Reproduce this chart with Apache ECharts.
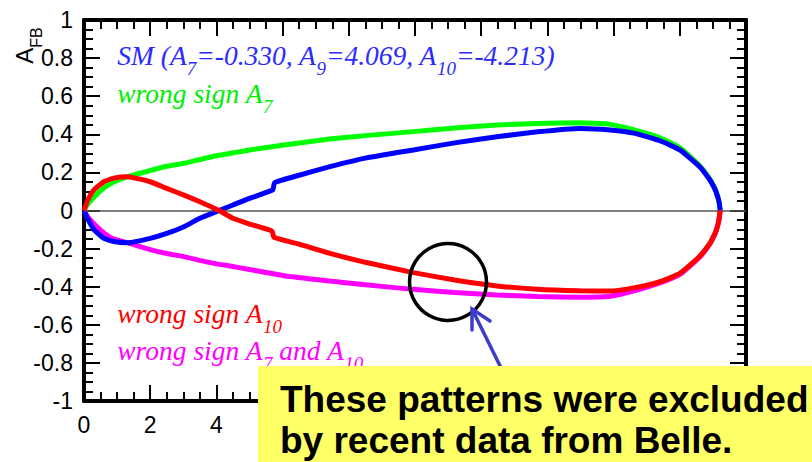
<!DOCTYPE html>
<html lang="en">
<head>
<meta charset="UTF-8">
<title>A_FB</title>
<style>
  html, body { margin: 0; padding: 0; background: #fff; }
  #chart { width: 812px; height: 462px; }
</style>
<script src="https://cdn.jsdelivr.net/npm/echarts@6/dist/echarts.min.js"></script>
</head>
<body>
<div id="chart"></div>
<script>
  // q^2 and A_FB values
  var smQ = [0, 0.1, 0.3, 0.6, 0.9, 1.31, 2, 2.5, 3.02, 3.5, 4.08, 4.5, 5, 5.7, 5.76, 6.5, 7.43, 8.5, 9.95, 11.2, 12.47, 13.7, 14.98, 15.9, 16.65, 17.4, 18, 18.6, 18.91, 19.05, 19.11, 19.18, 19.22];
  var smA = [0, -0.04, -0.1, -0.146, -0.163, -0.169, -0.146, -0.12, -0.085, -0.041, 0, 0.029, 0.064, 0.108, 0.146, 0.185, 0.23, 0.275, 0.318, 0.355, 0.387, 0.413, 0.431, 0.423, 0.405, 0.366, 0.318, 0.23, 0.16, 0.116, 0.09, 0.05, 0];

  var a7Q = [0, 0.1, 0.3, 0.6, 0.9, 1.31, 2, 2.5, 3.02, 3.5, 4.0, 4.53, 5, 6.04, 7.43, 8.5, 9.95, 11.2, 12.47, 13.7, 14.98, 15.9, 16.65, 17.4, 18, 18.6, 18.91, 19.05, 19.11, 19.18, 19.22];
  var a7A = [0, 0.03, 0.07, 0.118, 0.15, 0.177, 0.21, 0.232, 0.248, 0.268, 0.287, 0.303, 0.318, 0.344, 0.375, 0.393, 0.414, 0.433, 0.449, 0.457, 0.461, 0.452, 0.422, 0.382, 0.33, 0.235, 0.165, 0.12, 0.095, 0.05, 0];

  var a10Q = [0, 0.1, 0.3, 0.6, 0.9, 1.31, 2, 2.5, 3.02, 3.5, 4.08, 4.5, 5, 5.68, 5.74, 6.5, 7.43, 8.5, 9.95, 11.2, 12.47, 13.7, 14.98, 15.9, 16.65, 17.4, 18, 18.6, 18.91, 19.05, 19.11, 19.18, 19.22];
  var a10A = [0, 0.05, 0.108, 0.151, 0.17, 0.177, 0.151, 0.116, 0.081, 0.046, 0, -0.041, -0.071, -0.108, -0.141, -0.177, -0.225, -0.272, -0.326, -0.365, -0.396, -0.413, -0.421, -0.423, -0.405, -0.374, -0.33, -0.24, -0.172, -0.125, -0.1, -0.052, 0];

  var bothQ = a7Q;
  var bothA = [0, -0.03, -0.07, -0.118, -0.15, -0.169, -0.205, -0.226, -0.242, -0.262, -0.28, -0.295, -0.31, -0.342, -0.37, -0.39, -0.414, -0.43, -0.443, -0.452, -0.456, -0.45, -0.42, -0.38, -0.335, -0.245, -0.175, -0.128, -0.1, -0.053, 0];

  // only these x labels are visible, the rest sit under the yellow box
  var shownXLabels = [0, 2, 4];

  function pairs(q, a) {
    return q.map(function (x, i) { return [x, a[i]]; });
  }

  var serif = 'Liberation Serif';
  var sans = 'Liberation Sans';

  // rich text with subscripts; p is a spacer that makes the line tall enough
  function richFor(color) {
    return {
      m: { fontSize: 27.5, fontFamily: serif, fontStyle: 'italic', fill: color, lineHeight: 31, verticalAlign: 'top' },
      s: { fontSize: 19, fontFamily: serif, fontStyle: 'italic', fill: color, lineHeight: 21, verticalAlign: 'bottom' },
      p: { fontSize: 1, lineHeight: 36, fill: color }
    };
  }

  function label(x, y, text, color) {
    return {
      type: 'text', x: x, y: y, z: 50,
      style: { text: '{p| }' + text, rich: richFor(color), verticalAlign: 'top' }
    };
  }

  var tickStyle = { color: '#000', width: 2 };

  function axisX(pos, showLabel) {
    return {
      type: 'value', position: pos, min: 0, max: 20, interval: 2,
      axisLine: { show: true, onZero: false, lineStyle: { color: '#000', width: 4 } },
      axisTick: { show: true, inside: true, length: 16, lineStyle: tickStyle },
      minorTick: { show: true, splitNumber: 4, length: 9, lineStyle: tickStyle },
      splitLine: { show: false },
      axisLabel: {
        show: showLabel, color: '#000', fontSize: 23, fontFamily: sans, margin: 12,
        formatter: function (v) { return shownXLabels.indexOf(v) >= 0 ? String(v) : ''; }
      }
    };
  }

  function axisY(pos, showLabel) {
    return {
      type: 'value', position: pos, min: -1, max: 1, interval: 0.2,
      axisLine: { show: true, onZero: false, lineStyle: { color: '#000', width: 4 } },
      axisTick: { show: true, inside: true, length: 16, lineStyle: tickStyle },
      minorTick: { show: true, splitNumber: 4, length: 9, lineStyle: tickStyle },
      splitLine: { show: false },
      axisLabel: { show: showLabel, color: '#000', fontSize: 23, fontFamily: sans, margin: 11 }
    };
  }

  function curve(name, data, color, z) {
    return {
      name: name, type: 'line', data: data, showSymbol: false, z: z,
      smooth: 0.15,
      lineStyle: { color: color, width: 5 }, itemStyle: { color: color },
      silent: true
    };
  }

  var chart = echarts.init(document.getElementById('chart'), null, { renderer: 'svg' });

  var green = curve('wrong sign A7', pairs(a7Q, a7A), '#00ff00', 2);
  green.markLine = {
    silent: true, symbol: 'none', label: { show: false },
    lineStyle: { color: '#555', width: 1.5, type: 'solid' },
    data: [{ yAxis: 0 }]
  };

  chart.setOption({
    animation: false,
    grid: { left: 84, top: 20, right: 66, bottom: 61, outerBoundsMode: 'none' },
    xAxis: [axisX('bottom', true), axisX('top', false)],
    yAxis: [axisY('left', true), axisY('right', false)],
    series: [
      green,
      curve('wrong sign A7 and A10', pairs(bothQ, bothA), '#ff00ff', 3),
      curve('SM', pairs(smQ, smA), '#0000ff', 4),
      curve('wrong sign A10', pairs(a10Q, a10A), '#ff0000', 5)
    ],
    graphic: [
      {
        type: 'text', x: 12, y: 64, rotation: Math.PI / 2, z: 50,
        style: {
          text: '{p| }{a|A}{f|FB}', verticalAlign: 'top',
          rich: {
            a: { fontSize: 24, fontFamily: sans, fill: '#000', lineHeight: 26, verticalAlign: 'top' },
            f: { fontSize: 16, fontFamily: sans, fill: '#000', lineHeight: 18, verticalAlign: 'bottom' },
            p: { fontSize: 1, lineHeight: 32 }
          }
        }
      },
      label(117, 42, '{m|SM (A}{s|7}{m|=-0.330, A}{s|9}{m|=4.069, A}{s|10}{m|=-4.213)}', '#2b2bff'),
      label(117, 80, '{m|wrong sign A}{s|7}', '#00ee00'),
      label(117, 300, '{m|wrong sign A}{s|10}', '#ff0000'),
      label(117, 337, '{m|wrong sign A}{s|7}{m| and A}{s|10}', '#ff00ff'),
      {
        type: 'circle', z: 60, shape: { cx: 448, cy: 282, r: 38.5 },
        style: { fill: 'none', stroke: '#000', lineWidth: 3.5 }
      },
      {
        type: 'line', z: 60, shape: { x1: 507, y1: 380, x2: 472, y2: 309 },
        style: { stroke: '#3c3cc8', lineWidth: 3.5 }
      },
      {
        type: 'polyline', z: 60, shape: { points: [[472, 330], [472, 309], [490, 321]] },
        style: { fill: 'none', stroke: '#3c3cc8', lineWidth: 3.5, lineCap: 'round', lineJoin: 'miter' }
      },
      {
        type: 'rect', z: 70, shape: { x: 258, y: 366, width: 554, height: 96 },
        style: { fill: '#ffff66' }
      },
      {
        type: 'text', x: 280, y: 399.5, z: 80,
        style: { text: 'These patterns were excluded', fontSize: 37, fontWeight: 'bold', fontFamily: sans, fill: '#000', verticalAlign: 'middle' }
      },
      {
        type: 'text', x: 280, y: 440.5, z: 80,
        style: { text: 'by recent data from Belle.', fontSize: 37, fontWeight: 'bold', fontFamily: sans, fill: '#000', verticalAlign: 'middle' }
      }
    ]
  });
</script>
</body>
</html>
